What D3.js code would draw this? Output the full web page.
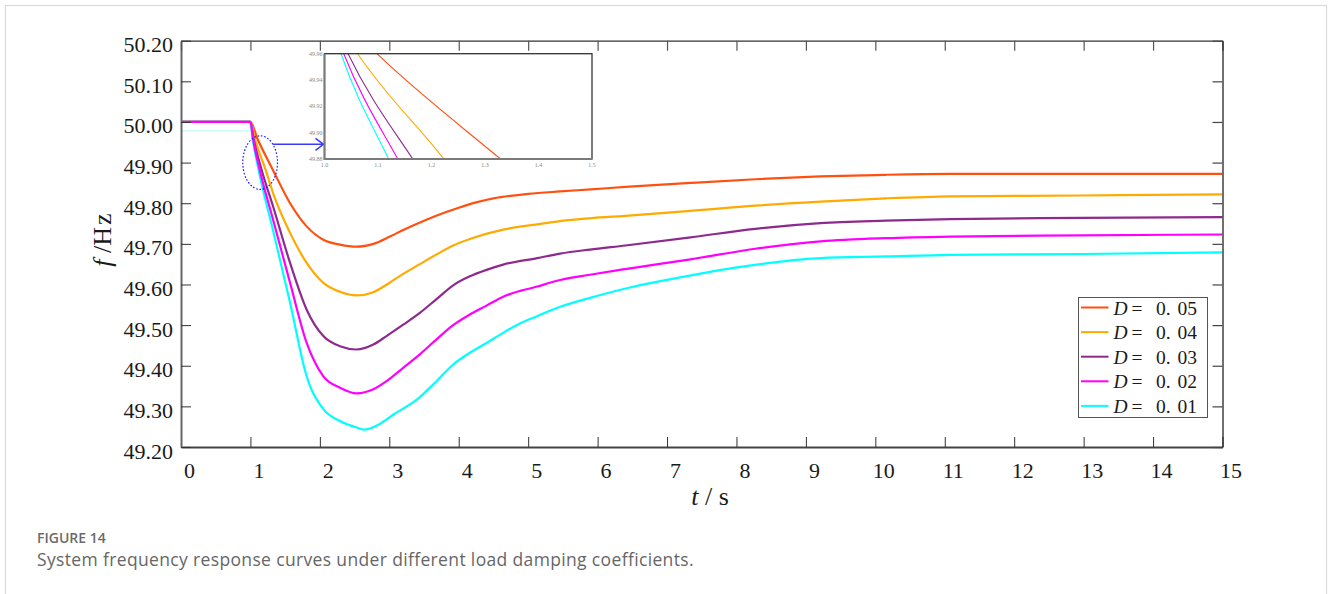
<!DOCTYPE html>
<html>
<head>
<meta charset="utf-8">
<script src="https://cdn.jsdelivr.net/npm/d3@7"></script>
<style>
  html, body { margin: 0; padding: 0; background: #fff; }
  svg { display: block; }
</style>
</head>
<body>
<svg id="chart" width="1328" height="594"></svg>
<script>
// ---- data ---------------------------------------------------------------
const timeTicks = [0, 1, 2, 3, 4, 5, 6, 7, 8, 9, 10, 11, 12, 13, 14, 15];
const freqTicks = [49.2, 49.3, 49.4, 49.5, 49.6, 49.7, 49.8, 49.9, 50.0, 50.1, 50.2];
const insetTimeTicks = [1.0, 1.1, 1.2, 1.3, 1.4, 1.5];
const insetFreqTicks = [49.88, 49.90, 49.92, 49.94, 49.96];

const dampingLabels = ["0. 05", "0. 04", "0. 03", "0. 02", "0. 01"];
const seriesColors = ["#ff5010", "#ffaa00", "#8e2a8e", "#ff00ff", "#00ffff"];

// frequency response [t (s), f (Hz)] for each load damping coefficient D
const freqD005 = [[0,50],[1,50],[1.098,49.96],[1.329,49.88],[1.571,49.80],[1.81,49.743],[2.05,49.710],
  [2.29,49.698],[2.53,49.693],[2.77,49.700],[3.01,49.718],[3.2,49.734],[3.5,49.757],[3.83,49.779],
  [4.0,49.789],[4.25,49.802],[4.5,49.812],[5.0,49.823],[5.46,49.829],[5.9,49.834],[6.4,49.840],[7.34,49.850],
  [8.27,49.859],[9.21,49.866],[10.15,49.870],[11.08,49.872],[13,49.872],[15,49.872]];
const freqD004 = [[0,50],[1,50],[1.062,49.96],[1.223,49.88],[1.33,49.823],[1.571,49.727],[1.81,49.653],
  [2.05,49.604],[2.29,49.582],[2.53,49.573],[2.77,49.581],[3.01,49.605],[3.2,49.626],[3.44,49.650],
  [3.68,49.674],[3.92,49.696],[4.16,49.712],[4.64,49.735],[5.13,49.748],[5.46,49.756],[5.89,49.763],
  [6.4,49.769],[7.34,49.781],[8.27,49.794],[9.21,49.804],[10.15,49.812],[11.08,49.817],[12.96,49.819],[15,49.822]];
const freqD003 = [[0,50],[1,50],[1.044,49.96],[1.165,49.88],[1.33,49.79],[1.571,49.653],[1.81,49.538],
  [2.05,49.473],[2.29,49.448],[2.53,49.440],[2.77,49.452],[2.96,49.473],[3.2,49.501],[3.44,49.530],
  [3.68,49.564],[3.92,49.598],[4.16,49.620],[4.4,49.636],[4.64,49.649],[5.13,49.665],[5.46,49.676],
  [5.89,49.686],[6.4,49.696],[7.34,49.716],[8.27,49.737],[9.21,49.751],[10.15,49.757],[11.08,49.761],
  [12.96,49.764],[15,49.766]];
const freqD002 = [[0,50],[1,50],[1.036,49.96],[1.137,49.88],[1.33,49.757],[1.571,49.604],[1.81,49.456],
  [2.05,49.374],[2.29,49.346],[2.53,49.332],[2.77,49.342],[2.96,49.362],[3.2,49.395],[3.44,49.428],
  [3.68,49.465],[3.92,49.500],[4.16,49.526],[4.4,49.548],[4.64,49.570],[5.13,49.595],[5.46,49.611],
  [5.89,49.624],[6.4,49.638],[7.34,49.662],[8.27,49.688],[9.21,49.706],[10.15,49.714],[11.08,49.718],
  [12.96,49.721],[15,49.723]];
const freqD001 = [[0,50],[1,50],[1.031,49.96],[1.12,49.88],[1.33,49.73],[1.571,49.555],[1.81,49.374],
  [2.05,49.293],[2.29,49.264],[2.53,49.248],[2.64,49.243],[2.82,49.253],[3.06,49.280],[3.40,49.317],
  [3.68,49.362],[3.92,49.403],[4.16,49.432],[4.40,49.456],[4.64,49.481],[4.88,49.504],[5.13,49.522],
  [5.46,49.545],[5.89,49.567],[6.45,49.592],[7.02,49.612],[7.96,49.641],[9.21,49.665],[10.15,49.669],
  [11.08,49.673],[12.96,49.675],[15,49.679]];
// faint pre-disturbance trace of the D = 0.01 run
const faintTrace = [[0,49.978],[1,49.978]];

// highlighted region around the disturbance and the arrow to the inset
const zoomMark = { t: 1.14, f: 49.90, rt: 0.25, rf: 0.066 };
const arrowFrom = { t: 1.326, f: 49.945 };

const series = [freqD005, freqD004, freqD003, freqD002, freqD001];

// ---- layout -------------------------------------------------------------
const svg = d3.select("#chart");
const W = 1328, H = 594;
const plot = { left: 181, right: 1222.5, top: 40.7, bottom: 447 };
const inset = { left: 324.5, right: 592, top: 53.7, bottom: 159 };
const serif = "'Liberation Serif', 'Times New Roman', serif";
const sans = "'Open Sans', 'Noto Sans', sans-serif";

svg.append("rect").attr("width", W).attr("height", H).attr("fill", "#fff");
svg.append("rect").attr("x", 5.5).attr("y", 5.5).attr("width", 1321).attr("height", H + 10)
  .attr("fill", "none").attr("stroke", "#dadada").attr("stroke-width", 1.2);

const x = d3.scaleLinear().domain([0, 15]).range([plot.left, plot.right]);
const y = d3.scaleLinear().domain([49.2, 50.2]).range([plot.bottom, plot.top]);

const defs = svg.append("defs");
defs.append("clipPath").attr("id", "plotClip").append("rect")
  .attr("x", plot.left).attr("y", plot.top)
  .attr("width", plot.right - plot.left).attr("height", plot.bottom - plot.top);
defs.append("clipPath").attr("id", "insetClip").append("rect")
  .attr("x", inset.left).attr("y", inset.top)
  .attr("width", inset.right - inset.left).attr("height", inset.bottom - inset.top);

// ---- curves -------------------------------------------------------------
const line = d3.line().x(d => x(d[0])).y(d => y(d[1])).curve(d3.curveMonotoneX);
const curves = svg.append("g").attr("clip-path", "url(#plotClip)");

curves.append("path").datum(faintTrace).attr("d", line)
  .attr("fill", "none").attr("stroke", "#00e0e0").attr("stroke-opacity", 0.3).attr("stroke-width", 1);

// draw order keeps the magenta trace on top along the shared 50 Hz segment
const drawOrder = [0, 1, 2, 4, 3];
drawOrder.forEach(i => {
  curves.append("path").datum(series[i]).attr("d", line)
    .attr("fill", "none").attr("stroke", seriesColors[i]).attr("stroke-width", 2.2)
    .attr("stroke-linejoin", "round");
});

// ---- axes ---------------------------------------------------------------
const gx = svg.append("g").attr("transform", `translate(0,${plot.bottom})`)
  .call(d3.axisBottom(x).tickValues(timeTicks).tickSize(-10).tickSizeOuter(0).tickFormat(d3.format("d")));
gx.attr("font-family", serif).attr("font-size", 22);
gx.selectAll("text").attr("x", 8).attr("y", 31).attr("dy", null).attr("fill", "#1a1a1a");
gx.selectAll(".tick line").attr("stroke", "#333").attr("stroke-width", 1);
gx.select(".domain").attr("stroke", "#444").attr("stroke-width", 2);

const gy = svg.append("g").attr("transform", `translate(${plot.left},0)`)
  .call(d3.axisLeft(y).tickValues(freqTicks).tickSize(-10).tickSizeOuter(0).tickFormat(d3.format(".2f")));
gy.attr("font-family", serif).attr("font-size", 22);
gy.selectAll("text").attr("x", -8).attr("y", 11).attr("dy", null).attr("fill", "#1a1a1a");
gy.selectAll(".tick line").attr("stroke", "#333").attr("stroke-width", 1);
gy.select(".domain").attr("stroke", "#666").attr("stroke-width", 2);

const gt = svg.append("g").attr("transform", `translate(0,${plot.top})`)
  .call(d3.axisTop(x).tickValues(timeTicks).tickSize(-10).tickSizeOuter(0).tickFormat(""));
gt.selectAll(".tick line").attr("stroke", "#555").attr("stroke-width", 1.2);
gt.select(".domain").attr("stroke", "#333").attr("stroke-width", 1.3);

const gr = svg.append("g").attr("transform", `translate(${plot.right},0)`)
  .call(d3.axisRight(y).tickValues(freqTicks).tickSize(-10).tickSizeOuter(0).tickFormat(""));
gr.selectAll(".tick line").attr("stroke", "#444").attr("stroke-width", 1.2);
gr.select(".domain").attr("stroke", "#222").attr("stroke-width", 1.3);

// axis titles
const xt = svg.append("text").attr("x", 710).attr("y", 505).attr("text-anchor", "middle")
  .attr("font-family", serif).attr("font-size", 26).attr("fill", "#1a1a1a");
xt.append("tspan").attr("font-style", "italic").text("t");
xt.append("tspan").text(" / s");

const yt = svg.append("text").attr("transform", "translate(111,240) rotate(-90)")
  .attr("text-anchor", "middle").attr("font-family", serif).attr("font-size", 26).attr("fill", "#1a1a1a");
yt.append("tspan").attr("font-style", "italic").text("f");
yt.append("tspan").text(" /H");
yt.append("tspan").attr("dx", 2).text("z");

// ---- zoom marker & arrow ------------------------------------------------
svg.append("ellipse")
  .attr("cx", x(zoomMark.t)).attr("cy", y(zoomMark.f))
  .attr("rx", x(zoomMark.t + zoomMark.rt) - x(zoomMark.t))
  .attr("ry", y(zoomMark.f - zoomMark.rf) - y(zoomMark.f))
  .attr("fill", "none").attr("stroke", "#1a1aff").attr("stroke-width", 1.2)
  .attr("stroke-dasharray", "1.6 1.8");

const ax0 = x(arrowFrom.t), ay = y(arrowFrom.f), ax1 = inset.left - 1;
const arrow = svg.append("g").attr("stroke", "#3a3aff").attr("stroke-width", 1.5).attr("fill", "none");
arrow.append("line").attr("x1", ax0).attr("y1", ay).attr("x2", ax1).attr("y2", ay);
arrow.append("path").attr("d", `M${ax1 - 8},${ay - 6} L${ax1},${ay} L${ax1 - 8},${ay + 6}`);

// ---- inset --------------------------------------------------------------
const xi = d3.scaleLinear().domain([1.0, 1.5]).range([inset.left, inset.right]);
const yi = d3.scaleLinear().domain([49.88, 49.96]).range([inset.bottom, inset.top]);
const insetG = svg.append("g");
insetG.append("rect").attr("x", inset.left).attr("y", inset.top)
  .attr("width", inset.right - inset.left).attr("height", inset.bottom - inset.top)
  .attr("fill", "#fff");
const lineI = d3.line().x(d => xi(d[0])).y(d => yi(d[1])).curve(d3.curveMonotoneX);
const insetCurves = insetG.append("g").attr("clip-path", "url(#insetClip)");
drawOrder.forEach(i => {
  insetCurves.append("path").datum(series[i]).attr("d", lineI)
    .attr("fill", "none").attr("stroke", seriesColors[i]).attr("stroke-width", 1.1);
});
insetG.append("rect").attr("x", inset.left).attr("y", inset.top)
  .attr("width", inset.right - inset.left).attr("height", inset.bottom - inset.top)
  .attr("fill", "none").attr("stroke", "#333").attr("stroke-width", 1.3);
insetG.append("path")
  .attr("d", `M${inset.left},${inset.top} V${inset.bottom} H${inset.right}`)
  .attr("fill", "none").attr("stroke", "#7a7a7a").attr("stroke-width", 2);

insetG.selectAll(".ity").data(insetFreqTicks).join("text")
  .attr("x", inset.left - 2).attr("y", d => yi(d) + 2)
  .attr("text-anchor", "end").attr("font-family", serif).attr("font-size", 6)
  .attr("fill", "#888").text(d => d3.format(".2f")(d));
insetG.selectAll(".itx").data(insetTimeTicks).join("text")
  .attr("x", d => xi(d)).attr("y", inset.bottom + 8)
  .attr("text-anchor", "middle").attr("font-family", serif).attr("font-size", 6)
  .attr("fill", "#888").text(d => d3.format(".1f")(d));

// ---- legend -------------------------------------------------------------
const lg = svg.append("g").attr("transform", "translate(1078.5,297.5)");
lg.append("rect").attr("width", 129).attr("height", 120)
  .attr("fill", "#fff").attr("stroke", "#555").attr("stroke-width", 1);
dampingLabels.forEach((lab, i) => {
  const ly = 10 + i * 24.6;
  lg.append("line").attr("x1", 2.5).attr("x2", 30).attr("y1", ly).attr("y2", ly)
    .attr("stroke", seriesColors[i]).attr("stroke-width", 2);
  const t = lg.append("text").attr("y", ly + 7).attr("font-family", serif)
    .attr("font-size", 19.5).attr("fill", "#1a1a1a");
  t.append("tspan").attr("x", 35).attr("font-style", "italic").text("D");
  t.append("tspan").attr("x", 53).text("=");
  t.append("tspan").attr("x", 77.5).text(lab.split(" ")[0]);
  t.append("tspan").attr("x", 99).text(lab.split(" ")[1]);
});

// ---- caption ------------------------------------------------------------
svg.append("text").attr("x", 37).attr("y", 543)
  .attr("font-family", sans).attr("font-size", 14)
  .attr("font-weight", 600).attr("fill", "#6b6b6b").text("FIGURE 14");
svg.append("text").attr("x", 37).attr("y", 566)
  .attr("font-family", sans).attr("font-size", 17.5).attr("letter-spacing", 0.35)
  .attr("fill", "#666")
  .text("System frequency response curves under different load damping coefficients.");
</script>
</body>
</html>
